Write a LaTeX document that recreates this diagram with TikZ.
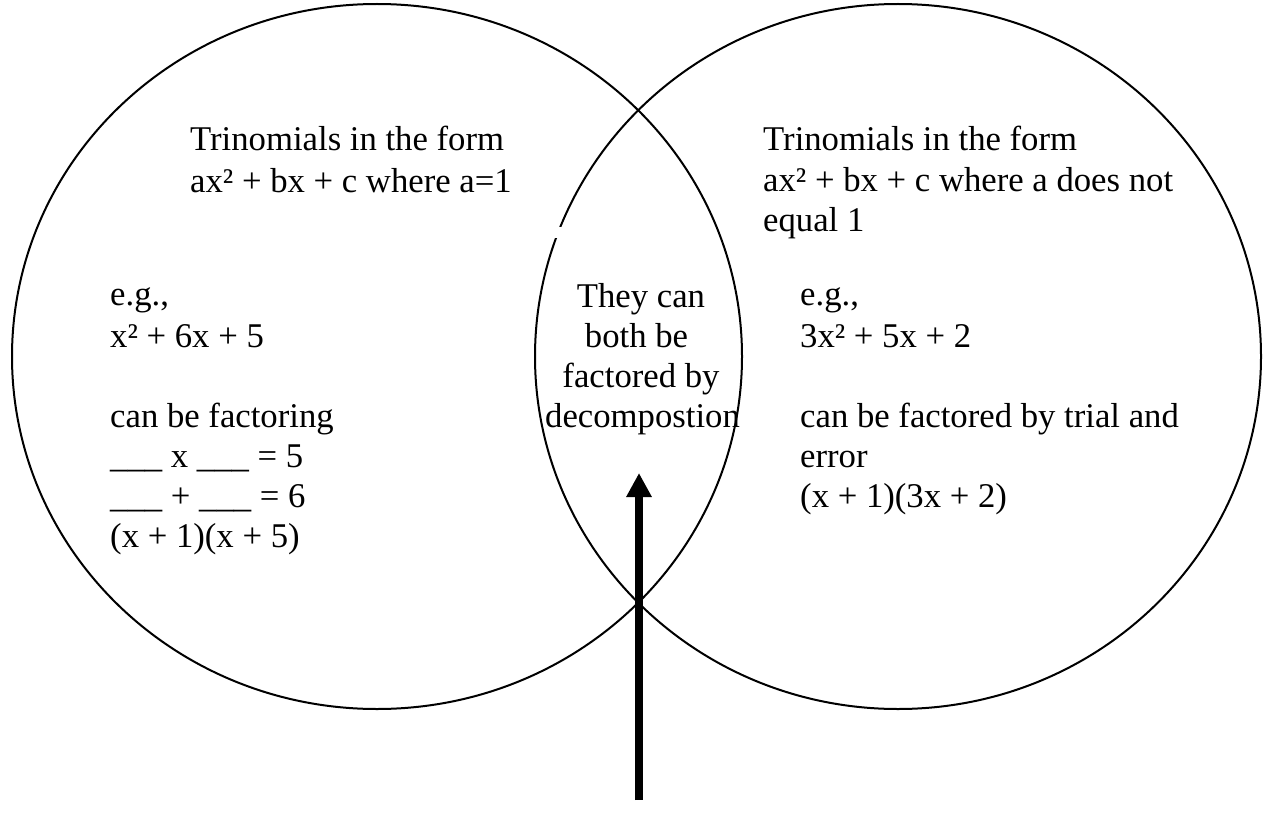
\documentclass[tikz,border=0pt]{standalone}
\usepackage{fontspec}
\setmainfont{Liberation Serif}
\usetikzlibrary{arrows.meta}
\tikzset{
  venn/.style={draw=black, line width=2pt},
  txt/.style={inner sep=0pt, anchor=base west, font=\fontsize{34.7}{41}\selectfont},
  ctxt/.style={inner sep=0pt, anchor=base, font=\fontsize{34.7}{41}\selectfont},
  bigarrow/.style={line width=8pt, -{Triangle[width=24pt,length=24pt]}}
}
\begin{document}
\begin{tikzpicture}[x=1pt,y=-1pt]
\useasboundingbox (0,0) rectangle (1263,832);
\fill[white] (0,0) rectangle (1263,832);
% circles
\draw[venn] (377,356.5) ellipse [x radius=365, y radius=352.5];
\draw[venn] (898,356.5) ellipse [x radius=363, y radius=352.5];
% small gap in right circle
\fill[white] (547,226.5) rectangle (569,237.5);
% left texts
\node[txt] (l1) at (190,150) {Trinomials in the form};
\node[txt] (l2) at (190,192) {ax² + bx + c where a=1};
\node[txt] (l3) at (110,305) {e.g.,};
\node[txt] (l4) at (110,347) {x² + 6x + 5};
\node[txt] (l5) at (110,427) {can be factoring};
\node[txt] (l6) at (110,467) {\_\_\_ x \_\_\_ = 5};
\node[txt] (l7) at (110,507) {\_\_\_ + \_\_\_ = 6};
\node[txt] (l8) at (110,547) {(x + 1)(x + 5)};
% middle texts
\node[ctxt] (m1) at (641,307) {They can};
\node[ctxt] (m2) at (636.5,347) {both be};
\node[ctxt] (m3) at (641,387) {factored by};
\node[ctxt] (m4) at (642.5,427) {decompostion};
% right texts
\node[txt] (r1) at (763,150) {Trinomials in the form};
\node[txt] (r2) at (763,191) {ax² + bx + c where a does not};
\node[txt] (r3) at (763,231) {equal 1};
\node[txt] (r4) at (800,305) {e.g.,};
\node[txt] (r5) at (800,347) {3x² + 5x + 2};
\node[txt] (r6) at (800,427) {can be factored by trial and};
\node[txt] (r7) at (800,467) {error};
\node[txt] (r8) at (800,507) {(x + 1)(3x + 2)};
% arrow
\coordinate (abase) at (639,800);
\coordinate (atip) at (639,473);
\draw[bigarrow] (abase) -- (atip);
\end{tikzpicture}
\end{document}
